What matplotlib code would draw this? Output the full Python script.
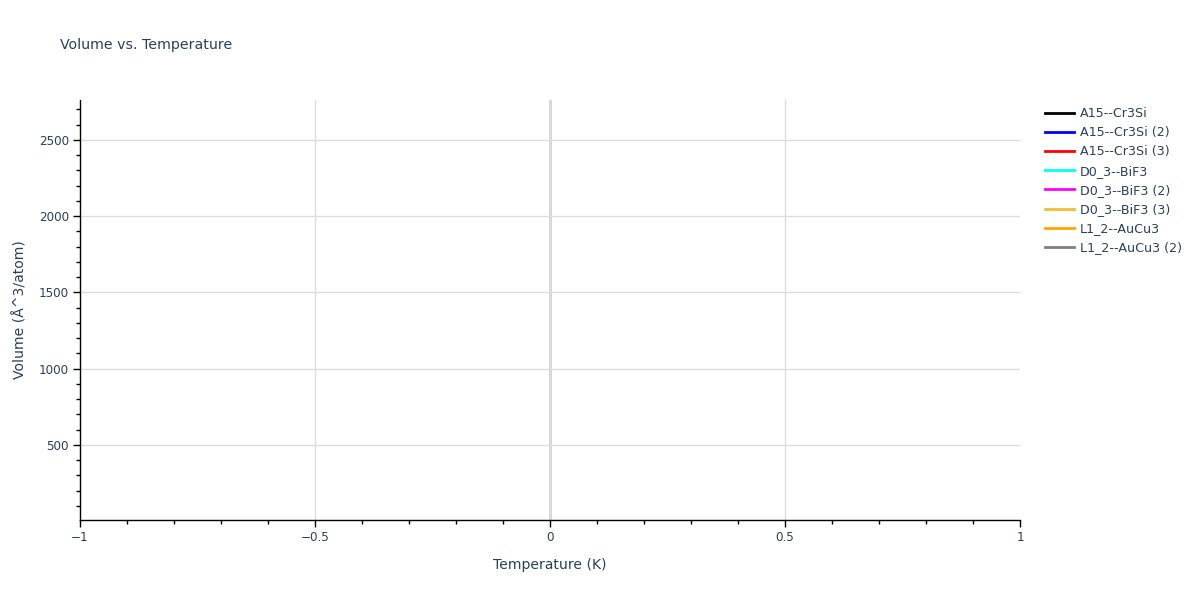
import matplotlib
matplotlib.use("Agg")
import matplotlib.pyplot as plt
from matplotlib.ticker import MultipleLocator, FuncFormatter

plt.rcParams['font.family'] = ['DejaVu Sans']

# Data: each structure has a single point at T = 0 (lines with one point draw nothing)
series_names = ["A15--Cr3Si", "A15--Cr3Si (2)", "A15--Cr3Si (3)", "D0_3--BiF3",
                "D0_3--BiF3 (2)", "D0_3--BiF3 (3)", "L1_2--AuCu3", "L1_2--AuCu3 (2)"]
series_colors = ["black", "blue", "red", "cyan", "magenta", "#f0c030", "orange", "gray"]
temperatures = [[0.0]] * 8
volumes = [[8.0], [350.0], [900.0], [2762.0], [1200.0], [1800.0], [15.0], [600.0]]

x_range = [-1, 1]
y_range = [8, 2762]
x_ticks = [-1, -0.5, 0, 0.5, 1]
y_ticks = [500, 1000, 1500, 2000, 2500]

txt = "#2a3f5f"
fig = plt.figure(figsize=(12, 6), dpi=100)
ax = fig.add_axes([80/1200, 80/600, 940/1200, 420/600])

handles = []
for name, c, t, v in zip(series_names, series_colors, temperatures, volumes):
    h, = ax.plot(t, v, color=c, lw=2, label=name)
    handles.append(h)

ax.set_xlim(*x_range)
ax.set_ylim(*y_range)
ax.set_xticks(x_ticks)
ax.set_yticks(y_ticks)
ax.xaxis.set_minor_locator(MultipleLocator(0.1))
ax.yaxis.set_minor_locator(MultipleLocator(100))

def fmt_x(v, p):
    if abs(v) < 1e-9:
        return "0"
    s = ("%g" % abs(v))
    return ("\u2212" + s) if v < 0 else s
ax.xaxis.set_major_formatter(FuncFormatter(fmt_x))

ax.grid(True, which='major', color='#dddddd', lw=1)
for gl, v in zip(ax.get_xgridlines(), x_ticks):
    if abs(v) == 1:
        gl.set_visible(False)
ax.axvline(0, color='#d0d0d0', lw=2, zorder=0.5)
ax.set_axisbelow(True)
for s in ['top', 'right']:
    ax.spines[s].set_visible(False)
for s in ['left', 'bottom']:
    ax.spines[s].set_color('black')
    ax.spines[s].set_linewidth(1)

ax.tick_params(which='major', direction='out', length=5, width=1, color='black',
               labelsize=8.64, labelcolor=txt, pad=3)
ax.tick_params(which='minor', direction='out', length=3, width=1, color='black')

ax.set_xlabel("Temperature (K)", fontsize=10.08, color=txt, labelpad=10)
ax.set_ylabel("Volume (Å^3/atom)", fontsize=10.08, color=txt, labelpad=8)

fig.text(60/1200, 1 - 45/600, "Volume vs. Temperature", fontsize=10.2, color=txt,
         va='center', ha='left')

leg = fig.legend(handles=handles, loc='upper left',
                 bbox_to_anchor=(1045/1200, 1 - 107/600), frameon=False,
                 fontsize=9.1, handlelength=2.3, handletextpad=0.45,
                 labelspacing=0.49, borderaxespad=0, borderpad=0)
for t in leg.get_texts():
    t.set_color(txt)

fig.savefig("out.png", dpi=100, facecolor='white')
